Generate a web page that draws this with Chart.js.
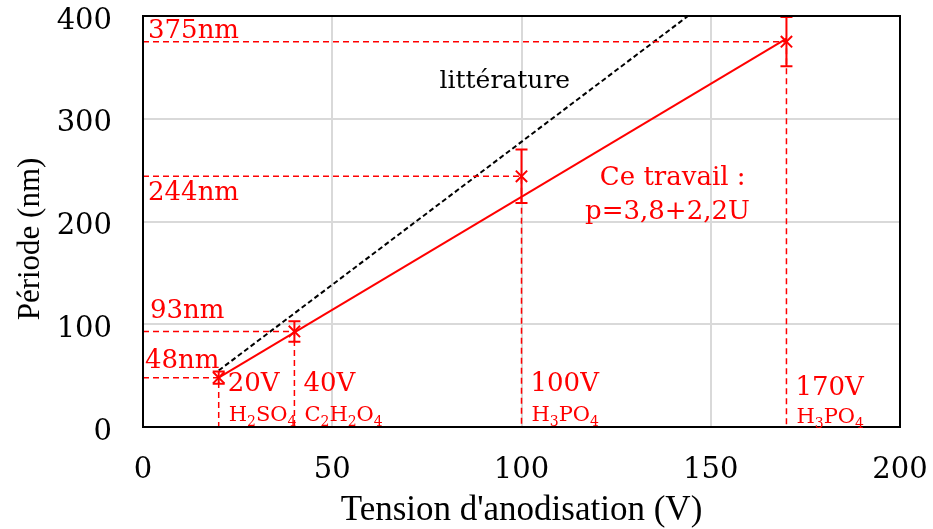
<!DOCTYPE html>
<html>
<head>
<meta charset="utf-8">
<script src="https://cdn.jsdelivr.net/npm/chart.js@4.4.0/dist/chart.umd.min.js"></script>
<style>
body { margin: 0; background: #fff; }
</style>
</head>
<body>
<canvas id="periodchart" width="933" height="529"></canvas>
<script>
//Measured points
const voltages = [20, 40, 100, 170];
const periods = [48, 93, 244, 375];
const errors = [6, 10, 26, 24];
const periodLabels = ['48nm', '93nm', '244nm', '375nm'];
const voltLabels = ['20V', '40V', '100V', '170V'];
const electrolytes = ['H_2SO_4', 'C_2H_2O_4', 'H_3PO_4', 'H_3PO_4'];

//Fit line (ce travail) and literature line
const fitX = [20, 170];
const fitY = [48, 378];
const litX = [20, 144];
const litY = [55, 400];

//Axis ticks
const xTicks = [0, 50, 100, 150, 200];
const yTicks = [0, 100, 200, 300, 400];

const red = '#ff0000';
const serif = '"DejaVu Serif", serif';

//Dashed guides from each point to both axes
const guideSets = voltages.map((v, i) => ({
    data: [{ x: 0, y: periods[i] }, { x: v, y: periods[i] }, { x: v, y: 0 }],
    showLine: true,
    borderColor: red,
    borderWidth: 1.5,
    borderDash: [6, 4],
    pointRadius: 0,
}));

//Draws a formula like H_2SO_4 with subscripts
function drawFormula(ctx, text, x, y) {
    let cx = x;
    for (let i = 0; i < text.length; i++) {
        let ch = text[i];
        if (ch === '_') {
            i++;
            ch = text[i];
            ctx.font = '14px ' + serif;
            ctx.fillText(ch, cx, y + 5);
        } else {
            ctx.font = '21px ' + serif;
            ctx.fillText(ch, cx, y);
        }
        cx += ctx.measureText(ch).width;
    }
}

//No extra room for the end tick labels, the layout padding decides
function noPadding(s) {
    s.paddingTop = 0;
    s.paddingBottom = 0;
    s.paddingLeft = 0;
    s.paddingRight = 0;
}

//Frame, error bars and annotations
const annotations = {
    id: 'annotations',
    afterDatasetsDraw(chart) {
        const { ctx, chartArea, scales: { x, y } } = chart;
        ctx.save();

        //error bars
        ctx.strokeStyle = red;
        ctx.lineWidth = 2;
        voltages.forEach((v, i) => {
            const px = x.getPixelForValue(v);
            const top = y.getPixelForValue(periods[i] + errors[i]);
            const bot = y.getPixelForValue(periods[i] - errors[i]);
            ctx.beginPath();
            ctx.moveTo(px, top); ctx.lineTo(px, bot);
            ctx.moveTo(px - 6, top); ctx.lineTo(px + 6, top);
            ctx.moveTo(px - 6, bot); ctx.lineTo(px + 6, bot);
            ctx.stroke();
        });

        //frame
        ctx.strokeStyle = '#000';
        ctx.lineWidth = 2;
        ctx.strokeRect(chartArea.left, chartArea.top, chartArea.right - chartArea.left, chartArea.bottom - chartArea.top);

        //y axis title, sits a bit below the middle
        ctx.save();
        ctx.translate(31, 239);
        ctx.rotate(-Math.PI / 2);
        ctx.fillStyle = '#000';
        ctx.textAlign = 'center';
        ctx.textBaseline = 'middle';
        ctx.font = '31px "Liberation Serif", serif';
        ctx.fillText('Période (nm)', 0, 0);
        ctx.restore();

        //period labels on the y side
        const labelDy = [-10, -13, 24, -4];
        const labelDx = [2, 7, 5, 5];
        ctx.fillStyle = red;
        ctx.textBaseline = 'alphabetic';
        ctx.textAlign = 'left';
        ctx.font = '26px ' + serif;
        periods.forEach((p, i) => {
            ctx.fillText(periodLabels[i], chartArea.left + labelDx[i], y.getPixelForValue(p) + labelDy[i]);
        });

        //voltage and electrolyte labels
        voltages.forEach((v, i) => {
            const px = x.getPixelForValue(v) + 9;
            const last = i === voltages.length - 1 ? 4 : 0;
            ctx.font = '26px ' + serif;
            ctx.fillText(voltLabels[i], px, chartArea.bottom - 36 + last);
            drawFormula(ctx, electrolytes[i], px + 1, chartArea.bottom - 6 + last / 2);
        });

        //fit equation
        ctx.font = '26px ' + serif;
        ctx.fillText('Ce travail :', x.getPixelForValue(120.7), y.getPixelForValue(236));
        ctx.fillText('p=3,8+2,2U', x.getPixelForValue(116.8), y.getPixelForValue(202));

        //literature label
        ctx.fillStyle = '#000';
        ctx.font = '25px ' + serif;
        ctx.textAlign = 'center';
        ctx.fillText('littérature', x.getPixelForValue(95.6), y.getPixelForValue(330));

        ctx.restore();
    }
};

const periodChart = new Chart(
    document.getElementById('periodchart'),
    {
        type: 'scatter',
        data: {
            datasets: [
                ...guideSets,
                {
                    label: 'littérature',
                    data: litX.map((v, i) => ({ x: v, y: litY[i] })),
                    showLine: true,
                    borderColor: '#000',
                    borderWidth: 2,
                    borderDash: [5, 3],
                    pointRadius: 0,
                },
                {
                    label: 'Ce travail',
                    data: fitX.map((v, i) => ({ x: v, y: fitY[i] })),
                    showLine: true,
                    borderColor: red,
                    borderWidth: 2,
                    pointRadius: 0,
                },
                {
                    label: 'Période',
                    data: voltages.map((v, i) => ({ x: v, y: periods[i] })),
                    showLine: false,
                    pointStyle: 'crossRot',
                    pointRadius: 8,
                    borderColor: red,
                    borderWidth: 2,
                },
            ]
        },
        options: {
            responsive: false,
            animation: false,
            layout: {
                padding: { top: 16, right: 33, left: 0, bottom: 0 }
            },
            plugins: {
                legend: { display: false },
                tooltip: { enabled: false },
            },
            scales: {
                x: {
                    type: 'linear',
                    min: 0,
                    max: 200,
                    afterBuildTicks: s => { s.ticks = xTicks.map(v => ({ value: v })); },
                    afterFit: s => { s.height = 102; noPadding(s); },
                    grid: { color: '#d9d9d9', lineWidth: 2, drawTicks: false },
                    border: { color: '#000', width: 2 },
                    ticks: { color: '#000', padding: 26, font: { family: serif, size: 29 } },
                    title: {
                        display: true,
                        text: "Tension d'anodisation (V)",
                        color: '#000',
                        padding: { top: 0, bottom: -3 },
                        font: { family: '"Liberation Serif", serif', size: 35 }
                    }
                },
                y: {
                    min: 0,
                    max: 400,
                    afterBuildTicks: s => { s.ticks = yTicks.map(v => ({ value: v })); },
                    afterFit: s => { s.width = 143; noPadding(s); },
                    grid: { color: '#d9d9d9', lineWidth: 2, drawTicks: false },
                    border: { color: '#000', width: 2 },
                    ticks: { color: '#000', padding: 31, labelOffset: 5, font: { family: serif, size: 29 } },
                    title: { display: false }
                }
            }
        },
        plugins: [annotations]
    }
);
</script>
</body>
</html>
